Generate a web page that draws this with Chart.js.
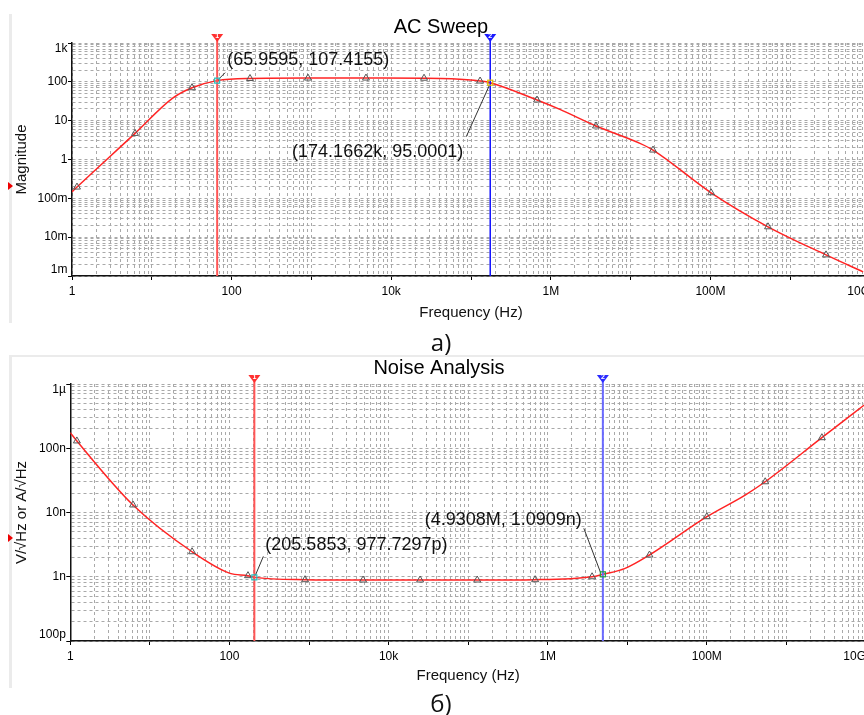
<!DOCTYPE html>
<html><head><meta charset="utf-8">
<script src="https://cdn.jsdelivr.net/npm/chart.js@4"></script>
<style>
html,body{margin:0;padding:0;width:864px;height:715px;overflow:hidden;background:#fff;}
#wrap{position:relative;width:864px;height:715px;overflow:hidden;}
canvas{position:absolute;left:0;}
.band{position:absolute;left:9px;width:3px;background:#ebebeb;}
.hline{position:absolute;left:9px;width:855px;height:2px;background:#ebebeb;}
.lab{position:absolute;font-family:'Open Sans','Noto Sans',sans-serif;font-size:24px;color:#111;transform:translate(-50%,-50%);line-height:1;}
.tri{position:absolute;width:0;height:0;border-top:4px solid transparent;border-bottom:4px solid transparent;border-left:5px solid #e00;}
</style></head>
<body><div id="wrap">
<div class="band" style="top:14px;height:309px"></div>
<div class="hline" style="top:355px"></div>
<div class="band" style="top:357px;height:331px"></div>
<div class="tri" style="left:8px;top:182px"></div>
<div class="tri" style="left:8px;top:534px"></div>
<canvas id="c1" width="890" height="330" style="top:0"></canvas>
<canvas id="c2" width="890" height="345" style="top:345px"></canvas>
<div class="lab" style="left:441px;top:342px">а)</div>
<div class="lab" style="left:441px;top:703px">б)</div>
</div>
<script>
// ---------- AC Sweep data ----------
const acFreq = [1, 1.155, 6.16, 18.1, 31.9, 65.96, 170, 906, 4830, 25800, 57000, 130000, 174166, 672000, 1.3e6, 3.68e6, 1.31e7, 1.91e7, 1.02e8, 5.27e8, 2.81e9, 8.2e9];
const acMag  = [0.147, 0.195, 4.7, 37.6, 70.5, 107.4, 122, 125, 125, 124, 120, 105, 95, 34, 19.5, 7.3, 2.6, 1.75, 0.139, 0.0185, 0.0035, 0.00128];
const acMarkerIdx = [1, 2, 4, 6, 7, 8, 9, 11, 13, 15, 17, 18, 19, 20];
const acCursorFreq = [65.9595, 174166.2];
const acCursorVal = [107.4155, 95.0001];
const acCursorText = ['(65.9595, 107.4155)', '(174.1662k, 95.0001)'];
const acYTickValues = [1e-3, 1e-2, 1e-1, 1, 10, 100, 1000];
const acYTickLabels = ['1m', '10m', '100m', '1', '10', '100', '1k'];

// ---------- Noise Analysis data ----------
const nzFreq = [1, 1.21, 6.14, 33.9, 102, 171, 205.59, 892, 4780, 24900, 130000, 695000, 3.61e6, 4.93e6, 9.4e6, 1.9e7, 1.0e8, 3.03e8, 5.41e8, 2.79e9, 9.5e9];
const nzVal  = [175e-9, 130e-9, 13.1e-9, 2.45e-9, 1.13e-9, 1.04e-9, 0.978e-9, 0.9e-9, 0.89e-9, 0.89e-9, 0.89e-9, 0.9e-9, 1.0e-9, 1.09e-9, 1.35e-9, 2.18e-9, 8.6e-9, 18.7e-9, 30.1e-9, 146e-9, 471e-9];
const nzMarkerIdx = [1, 2, 3, 5, 7, 8, 9, 10, 11, 12, 15, 16, 18, 19];
const nzCursorFreq = [205.5853, 4.9308e6];
const nzCursorVal = [977.7297e-12, 1.0909e-9];
const nzCursorText = ['(205.5853, 977.7297p)', '(4.9308M, 1.0909n)'];
const nzYTickValues = [1e-10, 1e-9, 1e-8, 1e-7, 1e-6];
const nzYTickLabels = ['100p', '1n', '10n', '100n', '1µ'];

// ---------- shared x axis ----------
const xTickValues = [1, 100, 1e4, 1e6, 1e8, 1e10];
const xTickLabels = ['1', '100', '10k', '1M', '100M', '10G'];
const gridMultipliers = [1, 2, 3, 4, 5, 6, 7, 8, 9];

const FONT = '"Liberation Sans", Arial, sans-serif';
Chart.defaults.font.family = FONT;

function gridVals(e0, e1) {
  const out = [];
  for (let e = e0; e < e1; e++) for (const m of gridMultipliers) out.push(Number((m * Math.pow(10, e)).toPrecision(12)));
  out.push(Math.pow(10, e1));
  return out;
}
const isDecade = v => Math.abs(Math.log10(v) - Math.round(Math.log10(v))) < 1e-6;
const labeler = (vals, labs) => v => {
  const i = vals.findIndex(t => Math.abs(Math.log10(v) - Math.log10(t)) < 1e-6);
  return i >= 0 ? labs[i] : '';
};

const edgeLabels = {
  id: 'edgeLabels',
  beforeDraw(chart) {
    const xi = chart.scales.x.getLabelItems();
    if (xi.length) xi[xi.length - 1].options.textAlign = 'right';
    const yi = chart.scales.y.getLabelItems();
    if (yi.length) { yi[0].options.textBaseline = 'bottom'; yi[yi.length - 1].options.textBaseline = 'top'; }
  }
};

function cursorPlugin(cfg) {
  return {
    id: 'cursors',
    afterDatasetsDraw(chart) {
      const { ctx, chartArea: ca, scales: { x, y } } = chart;
      cfg.cursorFreq.forEach((f, i) => {
        const px = x.getPixelForValue(f), py = y.getPixelForValue(cfg.cursorVal[i]);
        const st = cfg.cursorStyle[i], a = cfg.annot[i];
        ctx.save();
        ctx.strokeStyle = st.color; ctx.lineWidth = st.width;
        ctx.beginPath(); ctx.moveTo(px, ca.top - 6); ctx.lineTo(px, ca.bottom); ctx.stroke();
        ctx.fillStyle = st.tri;
        ctx.beginPath(); ctx.moveTo(px - 6, ca.top - 9); ctx.lineTo(px + 6, ca.top - 9); ctx.lineTo(px, ca.top - 1); ctx.closePath(); ctx.fill();
        ctx.fillStyle = '#fff'; ctx.font = 'bold 7px ' + FONT; ctx.textAlign = 'center'; ctx.textBaseline = 'middle';
        ctx.fillText(String(i + 1), px, ca.top - 6.5);
        ctx.strokeStyle = '#333'; ctx.lineWidth = 1;
        ctx.beginPath(); ctx.moveTo(px + a.lx, py + a.ly); ctx.lineTo(px + a.ex, py + a.ey); ctx.stroke();
        ctx.strokeStyle = st.pt; ctx.lineWidth = 1.2; ctx.strokeRect(px - 2.5, py - 2.5, 5, 5);
        ctx.fillStyle = '#111'; ctx.font = '18px ' + FONT; ctx.textAlign = a.align; ctx.textBaseline = 'middle';
        ctx.fillText(cfg.cursorText[i], px + a.tx, py + a.ty);
        ctx.restore();
      });
    }
  };
}

function makeChart(canvas, cfg) {
  return new Chart(canvas, {
    type: 'line',
    data: {
      datasets: [{
        data: cfg.freq.map((f, i) => ({ x: f, y: cfg.val[i] })),
        borderColor: '#ff2424', borderWidth: 1.5, cubicInterpolationMode: 'monotone',
        pointStyle: 'triangle',
        pointRadius: c => cfg.markerIdx.includes(c.dataIndex) ? 4 : 0,
        pointBorderColor: '#555', pointBackgroundColor: 'rgba(255,255,255,0)', pointBorderWidth: 1,
        pointHoverRadius: 0
      }]
    },
    options: {
      responsive: false, animation: false, events: [],
      layout: { padding: { left: 12, right: cfg.padRight, top: cfg.padTop, bottom: cfg.padBottom } },
      plugins: {
        legend: { display: false }, tooltip: { enabled: false },
        title: { display: true, text: cfg.title, color: '#000', font: { family: FONT, size: 20, weight: 'normal' }, padding: { top: cfg.tpt, bottom: cfg.tpb } }
      },
      scales: {
        x: {
          type: 'logarithmic', min: 1, max: 1e10,
          afterBuildTicks: s => { s.ticks = gridVals(0, 10).map(v => ({ value: v })); },
          afterFit: s => { s.height = cfg.xHeight; },
          ticks: { autoSkip: false, maxRotation: 0, minRotation: 0, padding: 4.5, color: '#000', font: { size: 12 }, callback: labeler(xTickValues, xTickLabels) },
          grid: { color: '#a9a9a9', lineWidth: 1, drawTicks: true, tickLength: 4, tickColor: c => (c.tick && isDecade(c.tick.value)) ? '#000' : 'rgba(0,0,0,0)' },
          border: { display: true, color: '#111', width: 1.5, dash: [3, 3] },
          title: { display: true, text: 'Frequency (Hz)', color: '#111', font: { size: 15 }, padding: { top: 0, bottom: 1 } }
        },
        y: {
          type: 'logarithmic', min: cfg.yMin, max: cfg.yMax,
          afterBuildTicks: s => { s.ticks = gridVals(cfg.yE0, cfg.yE1).map(v => ({ value: v })); },
          afterFit: s => { s.width = cfg.yWidth; },
          ticks: { autoSkip: false, padding: 0.5, color: '#000', font: { size: 12 }, callback: labeler(cfg.yTickValues, cfg.yTickLabels) },
          grid: { color: '#a9a9a9', lineWidth: 1, drawTicks: true, tickLength: 4, tickColor: c => (c.tick && isDecade(c.tick.value)) ? '#000' : 'rgba(0,0,0,0)' },
          border: { display: true, color: '#111', width: 1.5, dash: [3, 3] },
          title: { display: true, text: cfg.yTitle, color: '#111', font: { size: 15 }, padding: { top: 0.7, bottom: 0 } }
        }
      }
    },
    plugins: [cursorPlugin(cfg), edgeLabels]
  });
}

makeChart(document.getElementById('c1'), {
  title: 'AC Sweep', yTitle: 'Magnitude',
  freq: acFreq, val: acMag, markerIdx: acMarkerIdx,
  yMin: 1e-3, yMax: 1e3, yE0: -3, yE1: 3, yTickValues: acYTickValues, yTickLabels: acYTickLabels,
  padRight: 20, padTop: 12, padBottom: 7.5, tpt: 3.5, tpb: 3.5, xHeight: 46.5, yWidth: 60,
  cursorFreq: acCursorFreq, cursorVal: acCursorVal, cursorText: acCursorText,
  cursorStyle: [{ color: '#ff5555', width: 2, tri: '#ff3030', pt: '#20c0c0' }, { color: '#1010ff', width: 1.5, tri: '#1a1aff', pt: '#e0c000' }],
  annot: [
    { lx: 1, ly: -1, ex: 8, ey: -8, tx: 10, ty: -21, align: 'left' },
    { lx: -1, ly: 3, ex: -24, ey: 54, tx: -27, ty: 69, align: 'right' }
  ]
});

makeChart(document.getElementById('c2'), {
  title: 'Noise Analysis', yTitle: 'V/√Hz or A/√Hz',
  freq: nzFreq, val: nzVal, markerIdx: nzMarkerIdx,
  yMin: 1e-10, yMax: 1e-6, yE0: -10, yE1: -6, yTickValues: nzYTickValues, yTickLabels: nzYTickLabels,
  padRight: 24, padTop: 8, padBottom: 4, tpt: 3.8, tpb: 3.2, xHeight: 45, yWidth: 58.3,
  cursorFreq: nzCursorFreq, cursorVal: nzCursorVal, cursorText: nzCursorText,
  cursorStyle: [{ color: '#ff5555', width: 2, tri: '#ff3030', pt: '#20c0c0' }, { color: '#6a6aff', width: 2, tri: '#2a2aff', pt: '#20a040' }],
  annot: [
    { lx: 1, ly: -2, ex: 9, ey: -21, tx: 11, ty: -32, align: 'left' },
    { lx: -2, ly: -1, ex: -19, ey: -46, tx: -21, ty: -54, align: 'right' }
  ]
});
</script>
</body></html>
